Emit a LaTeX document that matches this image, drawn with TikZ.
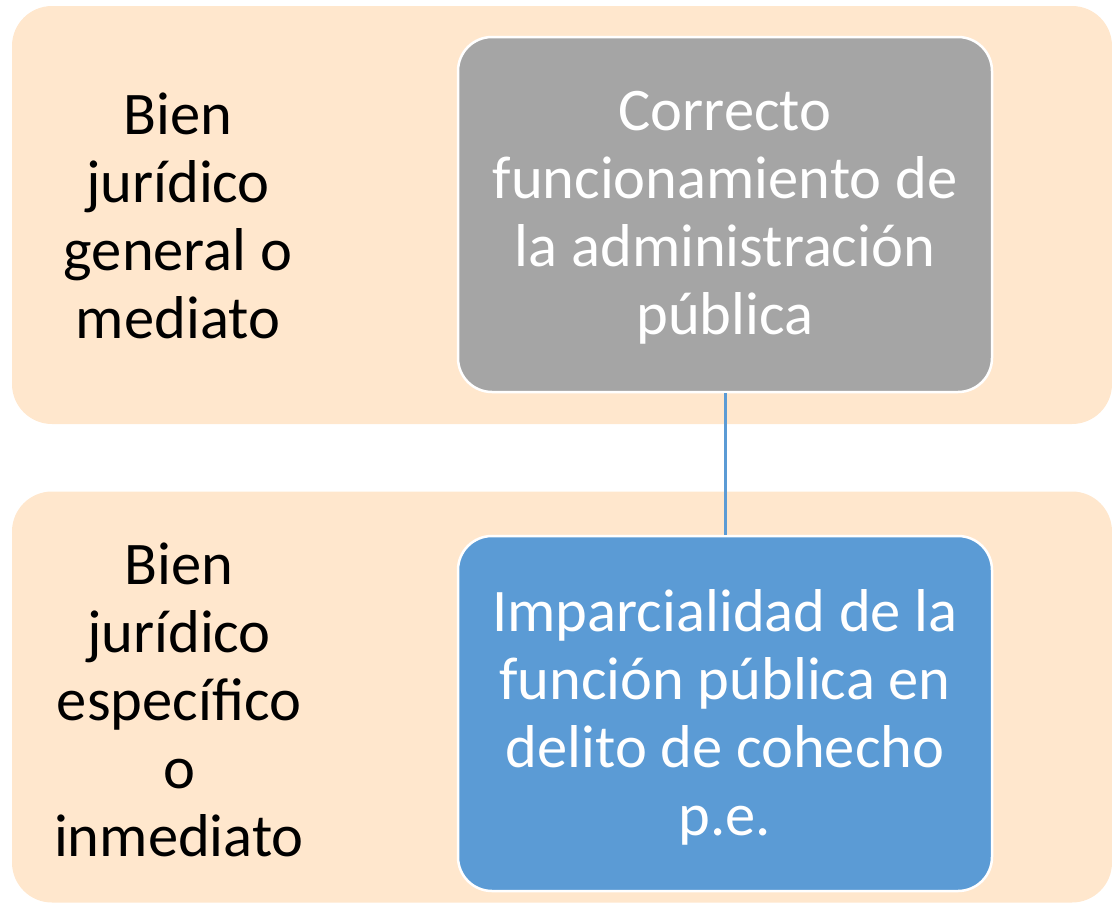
\documentclass[tikz,border=0pt]{standalone}
\usepackage{fontspec}
\setmainfont{Carlito}
\definecolor{peach}{HTML}{FFE7CD}
\definecolor{greyfill}{HTML}{A5A5A5}
\definecolor{bluefill}{HTML}{5B9BD5}
\begin{document}
\begin{tikzpicture}[x=1pt,y=-1pt,
  band/.style={fill=peach, draw=none, rounded corners=40pt, inner sep=0pt},
  inner/.style={draw=white, line width=2.5pt, rounded corners=34pt, inner sep=0pt,
    minimum width=534pt, minimum height=355pt},
  boxtext/.style={text=white, align=center, inner sep=0pt, font=\fontsize{60.5}{68}\selectfont},
  lbl/.style={align=center, text=black, inner sep=0pt, font=\fontsize{60.5}{68}\selectfont},
  link/.style={draw=bluefill, line width=3pt}]
\useasboundingbox (0,0) rectangle (1112,903);
\node[band, minimum width=1100pt, minimum height=418pt] (topband) at (562,215) {};
\node[band, minimum width=1100pt, minimum height=411pt] (botband) at (562,697) {};
\node[inner, fill=greyfill] (gen) at (725,214.5) {};
\node[inner, fill=bluefill] (spec) at (725,713.5) {};
\node[boxtext] (gentext) at ([yshift=-3.5pt]gen.center) {Correcto\\funcionamiento de\\la administración\\pública};
\node[boxtext] (spectext) at ([yshift=-3.5pt]spec.center) {Imparcialidad de la\\función pública en\\delito de cohecho\\p.e.};
\node[lbl] (genlbl) at (178,216) {Bien\\jurídico\\general o\\mediato};
\node[lbl] (speclbl) at (179,700) {Bien\\jurídico\\específico\\o\\inmediato};
\draw[link] (gen.south) -- (spec.north);
\end{tikzpicture}
\end{document}
